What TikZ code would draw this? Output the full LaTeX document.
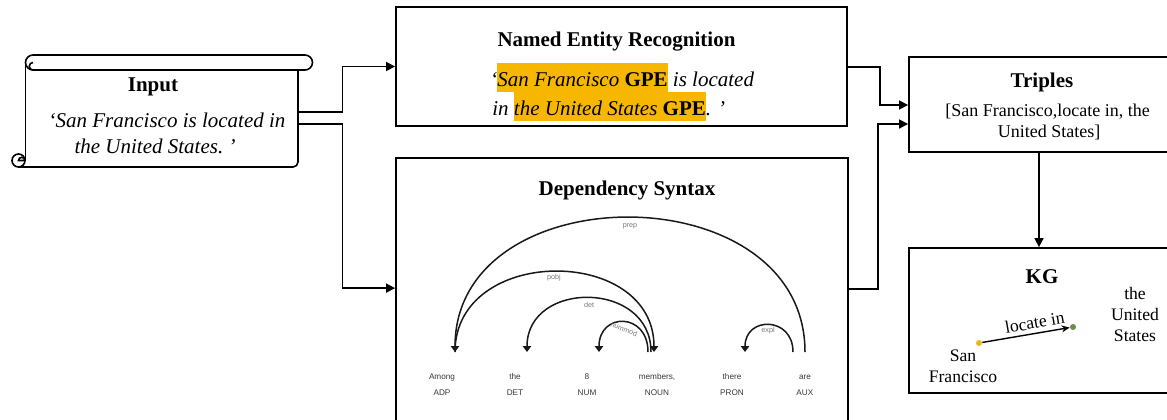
\documentclass[tikz,border=0pt]{standalone}
\usepackage{fontspec}
\setmainfont{Liberation Serif}
\newfontfamily\depfont{Liberation Sans}
\usetikzlibrary{arrows.meta,calc,fit}

\definecolor{hl}{RGB}{247,183,0}
\definecolor{sfdot}{RGB}{240,180,20}
\definecolor{usdot}{RGB}{110,140,70}
\definecolor{deptext}{RGB}{55,55,55}
\definecolor{deplabel}{RGB}{120,120,120}

% highlighted entity span
\newcommand\hlspan[1]{{\setlength{\fboxsep}{0pt}\colorbox{hl}{\rule[-3pt]{0pt}{14.5pt}#1}}}

\tikzset{
  box/.style={draw, line width=0.9pt, inner sep=0pt},
  ghost/.style={inner sep=0pt},
  conn/.style={line width=0.8pt, -{Triangle[length=4.5pt,width=4.5pt]}},
  ttl/.style={font=\fontsize{10.5}{12}\selectfont\bfseries, anchor=base, inner sep=0pt},
  txt/.style={font=\fontsize{10.5}{13}\selectfont\itshape, anchor=base, inner sep=0pt},
  rmtxt/.style={font=\fontsize{9}{10}\selectfont, anchor=base, inner sep=0pt},
  kgtxt/.style={font=\fontsize{8.8}{10.5}\selectfont, inner sep=0pt},
  word/.style={font=\depfont\fontsize{4.1}{5}\selectfont, text=deptext, anchor=base, inner sep=0pt},
  arclabel/.style={font=\depfont\fontsize{3.6}{4}\selectfont, text=deplabel, inner sep=0pt},
  deparc/.style={line width=0.75pt, draw=black!90, -{Triangle[length=3pt,width=4.2pt]}},
  dot/.style={circle, inner sep=0pt, minimum size=3pt},
}

\begin{document}
\begin{tikzpicture}[x=0.5pt,y=-0.5pt]
\useasboundingbox (0,0) rectangle (1167,419);

% ---------- input scroll ----------
\node[ghost, fit={(25,55) (298,167)}] (input) {};
\begin{scope}[line width=0.8pt]
  % top roll
  \draw (33,55) -- (305,55) arc[start angle=270,end angle=450,radius=7.5]
        -- (33,70) arc[start angle=90,end angle=270,radius=7.5];
  % inner turn of the roll
  \draw (33,62.5) arc[start angle=270,end angle=90,radius=3.75] -- (40,70);
  % sheet
  \draw (25.5,62.5) -- (25.5,160.5);
  \draw[rounded corners=2.5pt] (298,70) -- (298,167) -- (18.5,167);
  % bottom curl
  \draw (18.5,160.5) circle[radius=6.5];
  \draw (25,160.5) -- (18.5,160.5) arc[start angle=180,end angle=360,radius=3.2];
\end{scope}
\node[ttl] (inputttl) at (153,91) {Input};
\node[txt] (inputl1) at (167,127) {‘San Francisco is located in};
\node[txt] (inputl2) at (155,153) {the United States.~’};

% ---------- named entity recognition ----------
\node[box, fit={(396,7) (847,126)}] (ner) {};
\node[ttl] (nerttl) at (616.5,46) {Named Entity Recognition};
\node[txt, anchor=base west] (nerl1) at (490,86)
  {‘\hlspan{San Francisco \textbf{\upshape GPE}} is located};
\node[txt, anchor=base west] (nerl2) at (492,115)
  {in \hlspan{the United States \textbf{\upshape GPE}}. ’};

% ---------- dependency syntax ----------
\node[box, fit={(396,158) (848,440)}] (dep) {};
\node[ttl] (depttl) at (627,195) {Dependency Syntax};

\begin{scope}
  \clip (396,158) rectangle (813,419);
  \node[word] (w1) at (442,379) {Among};
  \node[word] (w2) at (515,379) {the};
  \node[word] (w3) at (587,379) {8};
  \node[word] (w4) at (657,379) {members,};
  \node[word] (w5) at (732,379) {there};
  \node[word] (w6) at (805,379) {are};
  \node[word] (p1) at (442,395) {ADP};
  \node[word] (p2) at (515,395) {DET};
  \node[word] (p3) at (587,395) {NUM};
  \node[word] (p4) at (657,395) {NOUN};
  \node[word] (p5) at (732,395) {PRON};
  \node[word, anchor=base west] (p6) at (796,395) {AUX};
\end{scope}

% arc end points
\coordinate (aAmong) at (455,352);
\coordinate (aThe) at (527,352);
\coordinate (aNum) at (599,352);
\coordinate (aMemIn) at (654,352);
\coordinate (aMemDet) at (651,352);
\coordinate (aMemNum) at (648,352);
\coordinate (aThere) at (745,352);
\coordinate (aAreExpl) at (793,352);
\coordinate (aArePrep) at (805,352);

\draw[deparc] (aArePrep) .. controls (805,173) and (455,173) .. (aAmong);
\draw[deparc] (aAmong) .. controls (455,245) and (654,245) .. (aMemIn);
\draw[deparc] (aMemDet) .. controls (651,280) and (527,280) .. (aThe);
\draw[deparc] (aMemNum) .. controls (648,312) and (599,312) .. (aNum);
\draw[deparc] (aAreExpl) .. controls (793,316) and (745,316) .. (aThere);

\node[arclabel] (lprep) at (630,226) {prep};
\node[arclabel] (lpobj) at (554,278) {pobj};
\node[arclabel] (ldet) at (589,305) {det};
\node[arclabel, rotate=-22] (lnum) at (624,329) {nummod};
\node[arclabel] (lexpl) at (768,331) {expl};

% ---------- triples ----------
\node[box, fit={(909,57) (1169,152)}] (tri) {};
\node[ttl] (trittl) at (1042,87) {Triples};
\node[rmtxt] (tril1) at (1047.5,116) {[San Francisco,locate in, the};
\node[rmtxt] (tril2) at (1049,137) {United States]};

% ---------- knowledge graph ----------
\node[box, fit={(909,248) (1169,393)}] (kg) {};
\node[ttl] (kgttl) at (1042,283) {KG};
\node[dot, fill=sfdot] (sf) at (979,343) {};
\node[dot, fill=usdot] (us) at (1073,327) {};
\draw[line width=0.7pt, -{Stealth[length=4pt,width=3.5pt]}] (sf) -- (us)
  node[kgtxt, pos=0.62, above=2pt, sloped] (rel) {locate in};
\node[kgtxt, align=center] (sftxt) at (963,366) {San\\Francisco};
\node[kgtxt, align=center] (ustxt) at (1135,314) {the\\United\\States};

% ---------- connectors ----------
\draw[conn] ($(input.east)+(0,1)$) -- ++(44,0) |- (ner.west);
\draw[conn] ($(input.east)+(0,13)$) -- ++(44,0) |- ($(dep.north west)+(0,131)$);
\draw[conn] ($(ner.east)+(0,0.5)$) -- ++(32,0) |- ($(tri.west)+(0,0.5)$);
\draw[conn] ($(dep.north east)+(0,132)$) -- ++(29,0) |- ($(tri.west)+(0,19.5)$);
\draw[conn] (tri.south) -- (kg.north);
\end{tikzpicture}
\end{document}
